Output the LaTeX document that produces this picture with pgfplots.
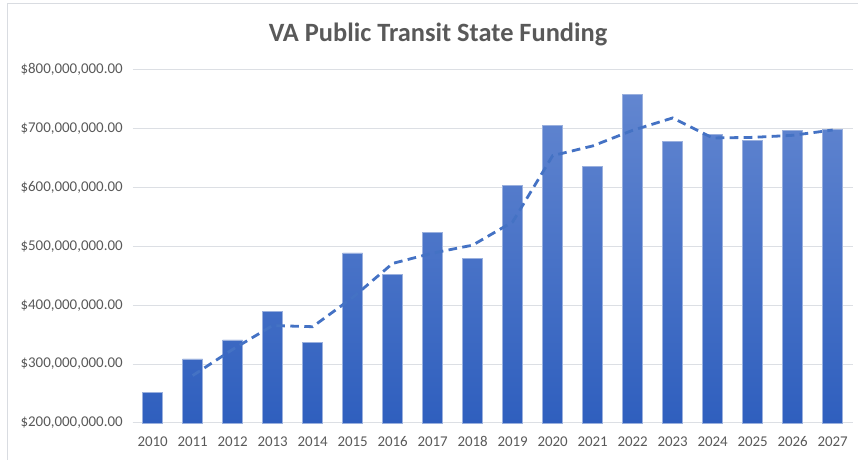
\documentclass[border=0pt]{standalone}
\usepackage{pgfplots}
\pgfplotsset{compat=1.18}
\usepackage{fontspec}
\setmainfont{Carlito}
\definecolor{txtgray}{HTML}{595959}
\definecolor{gridgray}{HTML}{DCDFE4}
\definecolor{bartop}{HTML}{6286D0}
\definecolor{barbot}{HTML}{2F5FBE}
\definecolor{barline}{HTML}{9AB0DE}
\definecolor{macolor}{HTML}{4472C4}
\definecolor{framegray}{HTML}{D9DCE1}
\begin{document}
\begin{tikzpicture}
\path[use as bounding box] (0pt,0pt) rectangle (643.5pt,345pt);
\draw[framegray, line width=0.75pt] (5.6pt,0pt) -- (5.6pt,342pt) -- (643.5pt,342pt);
\node[anchor=base, text=txtgray, font=\bfseries\fontsize{19.8}{23}\selectfont] at (328.5pt,313.7pt) {VA Public Transit State Funding};
\begin{axis}[
  at={(99.5pt,27.75pt)}, anchor=south west,
  scale only axis, width=540pt, height=265pt,
  xmin=-0.5, xmax=17.5, ymin=200, ymax=800,
  xtick={0,...,17},
  xticklabels={2010,2011,2012,2013,2014,2015,2016,2017,2018,2019,2020,2021,2022,2023,2024,2025,2026,2027},
  ytick={200,300,400,500,600,700,800},
  yticklabels={{\$200,000,000.00},{\$300,000,000.00},{\$400,000,000.00},{\$500,000,000.00},{\$600,000,000.00},{\$700,000,000.00},{\$800,000,000.00}},
  /pgf/number format/assume math mode=true,
  ticklabel style={text=txtgray, font=\fontsize{11.2}{13}\selectfont},
  yticklabel style={xshift=-4pt},
  xticklabel style={yshift=-6.5pt},
  major tick length=0pt,
  ymajorgrids, xmajorgrids=false, major grid style={draw=gridgray, line width=0.75pt},
  axis line style={draw=none},
  clip=false,
]
\draw[gridgray, line width=0.75pt] (axis cs:-0.5,200) -- (axis cs:17.5,200);
\addplot[ybar, bar width=15pt, shade, top color=bartop, bottom color=barbot, draw=barline, line width=0.4pt]
coordinates {(0,252) (1,309) (2,341) (3,390) (4,337) (5,489) (6,453) (7,524) (8,480) (9,603) (10,705) (11,636) (12,758) (13,678) (14,690) (15,680) (16,697) (17,698)};
\addplot[macolor, line width=2.1pt, dash pattern=on 6.5pt off 4pt, mark=none]
coordinates {(1,280.5) (2,325) (3,365.5) (4,363.5) (5,413) (6,471) (7,488.5) (8,502) (9,541.5) (10,654) (11,670.5) (12,697) (13,718) (14,684) (15,685) (16,688.5) (17,697.5)};
\end{axis}
\end{tikzpicture}
\end{document}
